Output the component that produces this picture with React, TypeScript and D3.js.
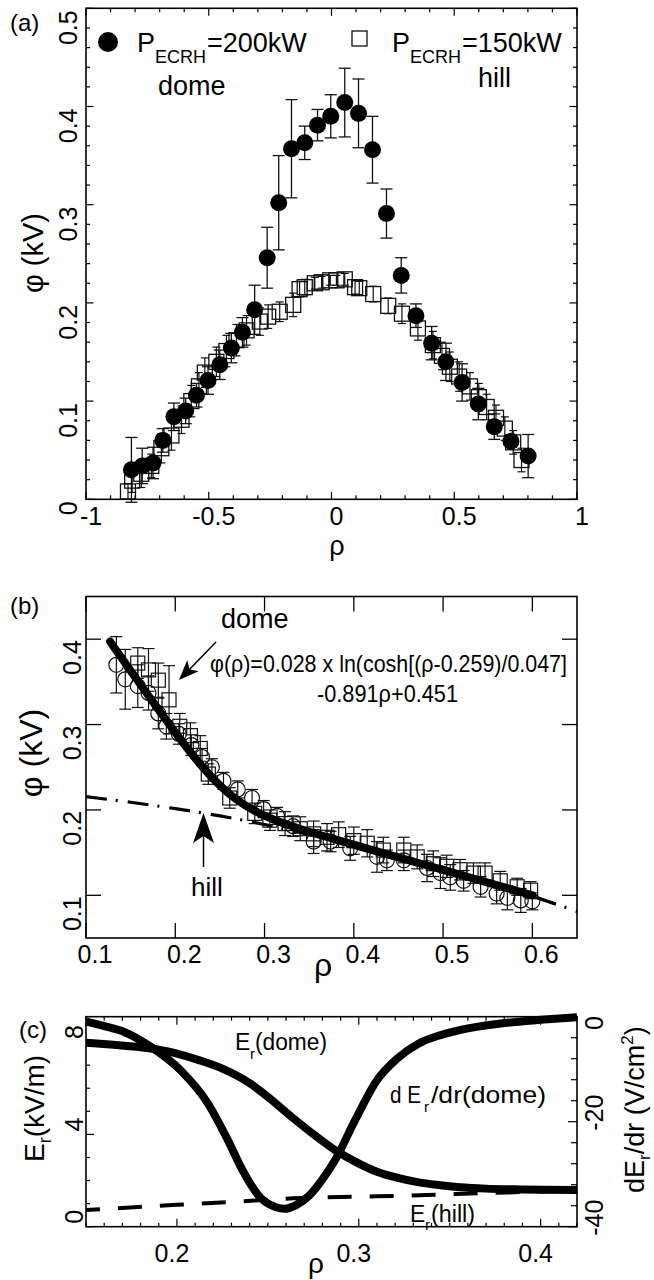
import React from 'react';
import * as d3 from 'd3';

const FONT = "'Liberation Sans', Arial, Helvetica, sans-serif";

// ---------- Panel (a) data ----------
const domeRho = [-0.815,-0.771,-0.727,-0.687,-0.642,-0.594,-0.550,-0.503,-0.455,-0.408,-0.363,-0.313,-0.262,-0.215,-0.163,-0.109,-0.057,-0.003,0.054,0.110,0.167,0.224,0.284,0.344,0.408,0.466,0.532,0.598,0.663,0.731,0.801];
const domePhi = [0.030,0.034,0.037,0.060,0.084,0.090,0.106,0.121,0.137,0.154,0.170,0.193,0.246,0.302,0.357,0.363,0.381,0.390,0.404,0.393,0.356,0.291,0.228,0.187,0.159,0.140,0.119,0.097,0.074,0.059,0.044];
const domeErr = [0.033,0.018,0.016,0.012,0.014,0.013,0.012,0.014,0.015,0.015,0.015,0.025,0.031,0.048,0.050,0.017,0.016,0.022,0.035,0.035,0.034,0.025,0.018,0.012,0.017,0.019,0.019,0.016,0.013,0.006,0.022];

const hillRho = [-0.829,-0.812,-0.775,-0.734,-0.693,-0.652,-0.611,-0.571,-0.540,-0.516,-0.469,-0.428,-0.387,-0.346,-0.292,-0.258,-0.211,-0.156,-0.130,-0.109,-0.068,-0.040,-0.005,0.020,0.054,0.096,0.113,0.170,0.231,0.287,0.352,0.413,0.450,0.482,0.520,0.564,0.600,0.632,0.670,0.706,0.740,0.774];
const hillPhi = [0.008,0.019,0.026,0.034,0.052,0.065,0.081,0.100,0.115,0.129,0.140,0.151,0.162,0.172,0.181,0.186,0.191,0.198,0.214,0.216,0.220,0.221,0.223,0.223,0.224,0.216,0.215,0.209,0.197,0.189,0.174,0.157,0.146,0.135,0.125,0.115,0.104,0.094,0.083,0.072,0.058,0.040];
const hillErr = [0.008,0.012,0.014,0.012,0.015,0.015,0.014,0.016,0.014,0.015,0.015,0.016,0.016,0.015,0.014,0.012,0.010,0.012,0.008,0.008,0.006,0.006,0.005,0.005,0.006,0.007,0.007,0.008,0.008,0.010,0.012,0.014,0.014,0.015,0.015,0.014,0.014,0.013,0.013,0.012,0.012,0.012];

const aXTicks = [-1, -0.5, 0, 0.5, 1];
const aXLabels = ['-1', '-0.5', '0', '0.5', '1'];
const aYTicks = [0, 0.1, 0.2, 0.3, 0.4, 0.5];
const aYLabels = ['0', '0.1', '0.2', '0.3', '0.4', '0.5'];

// ---------- Panel (b) data ----------
const bCircRho = [0.134,0.144,0.158,0.170,0.181,0.190,0.204,0.218,0.230,0.241,0.254,0.270,0.286,0.299,0.314,0.332,0.355,0.374,0.396,0.426,0.437,0.456,0.482,0.497,0.508,0.523,0.542,0.560,0.572,0.587,0.600];
const bCircPhi = [0.370,0.353,0.345,0.337,0.313,0.298,0.289,0.276,0.262,0.250,0.234,0.224,0.214,0.201,0.193,0.181,0.163,0.163,0.155,0.145,0.141,0.141,0.132,0.126,0.121,0.117,0.110,0.102,0.097,0.094,0.093];
const bCircErr = [0.033,0.035,0.025,0.020,0.018,0.015,0.012,0.012,0.010,0.010,0.010,0.010,0.010,0.010,0.010,0.012,0.014,0.012,0.014,0.018,0.012,0.012,0.016,0.018,0.015,0.012,0.012,0.012,0.014,0.014,0.010];

const bSqRho = [0.158,0.170,0.181,0.193,0.205,0.217,0.228,0.237,0.261,0.289,0.306,0.323,0.340,0.355,0.370,0.383,0.400,0.415,0.433,0.456,0.471,0.489,0.504,0.519,0.534,0.547,0.564,0.583,0.598];
const bSqPhi = [0.372,0.364,0.352,0.329,0.298,0.287,0.272,0.242,0.214,0.196,0.188,0.184,0.178,0.172,0.168,0.171,0.164,0.161,0.153,0.153,0.145,0.137,0.134,0.130,0.126,0.126,0.117,0.110,0.106];
const bSqErr = [0.018,0.025,0.020,0.040,0.015,0.015,0.015,0.012,0.012,0.012,0.012,0.014,0.014,0.015,0.016,0.015,0.016,0.016,0.015,0.015,0.014,0.015,0.013,0.012,0.012,0.012,0.011,0.010,0.010];

const fitRho = [0.127,0.13,0.15,0.17,0.19,0.21,0.23,0.25,0.259,0.27,0.29,0.31,0.33,0.35,0.38,0.42,0.46,0.50,0.55,0.60];
const fitPhi = [0.3972,0.3927,0.3631,0.3338,0.3049,0.2770,0.2511,0.2288,0.2202,0.2112,0.1983,0.1888,0.1812,0.1745,0.1653,0.1533,0.1415,0.1297,0.1149,0.1001];

const hillFitRho = [0.10,0.15,0.20,0.25,0.30,0.35,0.40,0.45,0.50,0.55,0.60,0.65];
const hillFitPhi = [0.2155,0.209,0.2015,0.193,0.183,0.171,0.158,0.144,0.130,0.115,0.099,0.081];

const bXTicks = [0.1, 0.2, 0.3, 0.4, 0.5, 0.6];
const bXLabels = ['0.1', '0.2', '0.3', '0.4', '0.5', '0.6'];
const bYTicks = [0.1, 0.2, 0.3, 0.4];
const bYLabels = ['0.1', '0.2', '0.3', '0.4'];

// ---------- Panel (c) data ----------
const erRho = [0.150,0.165,0.180,0.195,0.212,0.225,0.240,0.252,0.264,0.276,0.287,0.298,0.310,0.322,0.333,0.345,0.356,0.370,0.385,0.400,0.420];
const erDome = [7.97,7.88,7.78,7.60,7.22,6.85,6.22,5.50,4.70,3.95,3.32,2.82,2.38,2.10,1.92,1.80,1.71,1.65,1.62,1.60,1.59];

const dErRho = [0.150,0.160,0.171,0.1855,0.202,0.217,0.228,0.236,0.246,0.2545,0.259,0.266,0.273,0.280,0.287,0.298,0.310,0.321,0.333,0.345,0.356,0.378,0.400,0.420];
const dErDome = [-0.95,-1.8,-2.9,-5.7,-10.2,-16.5,-23.5,-29.2,-34.5,-36.3,-36.6,-35.8,-34.0,-31.0,-27.3,-19.7,-12.1,-8.0,-5.1,-3.5,-2.5,-1.3,-0.6,-0.1];

const erHillRho = [0.150,0.200,0.228,0.264,0.300,0.333,0.367,0.400,0.420];
const erHill = [0.72,0.95,1.06,1.23,1.30,1.36,1.45,1.53,1.58];

const cXTicks = [0.2, 0.3, 0.4];
const cXLabels = ['0.2', '0.3', '0.4'];
const cYLTicks = [0, 4, 8];
const cYLLabels = ['0', '4', '8'];
const cYRTicks = [-40, -20, 0];
const cYRLabels = ['-40', '-20', '0'];

// ---------- helpers ----------
const near = (v: number, step: number) => Math.abs(v / step - Math.round(v / step)) < 1e-6;

function arrowHead(x1: number, y1: number, x2: number, y2: number, len: number, hw: number, notch: number) {
  const dx = x2 - x1, dy = y2 - y1;
  const L = Math.hypot(dx, dy);
  const ux = dx / L, uy = dy / L;
  const px = -uy, py = ux;
  const bx = x2 - ux * len, by = y2 - uy * len;
  const nx = x2 - ux * (len - notch), ny = y2 - uy * (len - notch);
  return `M${x2},${y2} L${bx + px * hw},${by + py * hw} L${nx},${ny} L${bx - px * hw},${by - py * hw} Z`;
}

function ErrBar({ x, y1, y2, cap, sw = 1.3 }: { x: number; y1: number; y2: number; cap: number; sw?: number }) {
  return (
    <g stroke="#111" strokeWidth={sw} fill="none">
      <line x1={x} x2={x} y1={y1} y2={y2} />
      <line x1={x - cap / 2} x2={x + cap / 2} y1={y1} y2={y1} />
      <line x1={x - cap / 2} x2={x + cap / 2} y1={y2} y2={y2} />
    </g>
  );
}

export default function App() {
  // scales
  const ax = d3.scaleLinear().domain([-1, 1]).range([86, 577]);
  const ay = d3.scaleLinear().domain([0, 0.5]).range([499.3, 8.3]);
  const bx = d3.scaleLinear().domain([0.1, 0.65]).range([86, 577]);
  const by = d3.scaleLinear().domain([0.05, 0.45]).range([938, 596.5]);
  const cx = d3.scaleLinear().domain([0.15, 0.42]).range([86, 577]);
  const cyL = d3.scaleLinear().domain([0, 9.1]).range([1226.7, 1016.7]);
  const cyR = d3.scaleLinear().domain([-40, 0]).range([1226.7, 1016.7]);

  const fitLine = d3.line<number>().x((_, i) => bx(fitRho[i])).y((d) => by(d)).curve(d3.curveMonotoneX);
  const hillLine = d3.line<number>().x((_, i) => bx(hillFitRho[i])).y((d) => by(d)).curve(d3.curveMonotoneX);
  const erLine = d3.line<number>().x((_, i) => cx(erRho[i])).y((d) => cyL(d)).curve(d3.curveMonotoneX);
  const dErLine = d3.line<number>().x((_, i) => cx(dErRho[i])).y((d) => cyR(d)).curve(d3.curveMonotoneX);
  const erHillLine = d3.line<number>().x((_, i) => cx(erHillRho[i])).y((d) => cyL(d)).curve(d3.curveMonotoneX);

  // tick arrays
  const aXMinor = d3.range(-10, 11).map((k) => k / 10);
  const aYMinor = d3.range(0, 26).map((k) => k / 50);
  const cXMinor = d3.range(15, 43).map((k) => k / 100);
  const cYLMinor = d3.range(0, 10).map((k) => k);
  const cYRMinor = d3.range(-40, 1, 4);

  const [aL, aR, aT, aB] = [ax.range()[0], ax.range()[1], ay.range()[1], ay.range()[0]];
  const [bL, bR, bT, bB] = [bx.range()[0], bx.range()[1], by.range()[1], by.range()[0]];
  const [cL, cR, cT, cB] = [cx.range()[0], cx.range()[1], cyL.range()[1], cyL.range()[0]];

  return (
    <svg width={654} height={1280} viewBox="0 0 654 1280"
      style={{ position: 'absolute', left: 0, top: 0, background: '#fff', display: 'block' }}
      fontFamily={FONT}>
      <rect x={0} y={0} width={654} height={1280} fill="#fff" />

      {/* ================= Panel (a) ================= */}
      <g>
        <rect x={aL} y={aT} width={aR - aL} height={aB - aT} fill="none" stroke="#000" strokeWidth={1.6} />
        {aXMinor.map((v, i) => {
          const len = near(v, 0.5) ? 7.5 : 4;
          return (
            <g key={'axm' + i} stroke="#000" strokeWidth={1.2}>
              <line x1={ax(v)} x2={ax(v)} y1={aB} y2={aB - len} />
              <line x1={ax(v)} x2={ax(v)} y1={aT} y2={aT + len} />
            </g>
          );
        })}
        {aYMinor.map((v, i) => {
          const len = near(v, 0.1) ? 7.5 : 4;
          return (
            <g key={'aym' + i} stroke="#000" strokeWidth={1.2}>
              <line x1={aL} x2={aL + len} y1={ay(v)} y2={ay(v)} />
              <line x1={aR} x2={aR - len} y1={ay(v)} y2={ay(v)} />
            </g>
          );
        })}
        {aXTicks.map((v, i) => (
          <text key={'axl' + i} x={ax(v) + 5} y={525} fontSize={25} textAnchor="middle">{aXLabels[i]}</text>
        ))}
        {aYTicks.map((v, i) => (
          <text key={'ayl' + i} transform={`translate(77,${ay(v) + 2}) rotate(-90)`} fontSize={25} textAnchor="end">{aYLabels[i]}</text>
        ))}
        <text x={10} y={31} fontSize={24}>(a)</text>
        <text transform="translate(43,253) rotate(-90)" fontSize={29} textAnchor="middle">φ (kV)</text>
        <text x={337} y={555} fontSize={27} textAnchor="middle">ρ</text>

        {/* hill squares */}
        {hillRho.map((r, i) => (
          <ErrBar key={'he' + i} x={ax(r)} y1={ay(hillPhi[i] - hillErr[i])} y2={ay(hillPhi[i] + hillErr[i])} cap={8} sw={1.2} />
        ))}
        {hillRho.map((r, i) => (
          <rect key={'hs' + i} x={ax(r) - 7.5} y={ay(hillPhi[i]) - 7.5} width={15} height={15} fill="none" stroke="#111" strokeWidth={1.3} />
        ))}
        {/* dome circles */}
        {domeRho.map((r, i) => (
          <ErrBar key={'de' + i} x={ax(r)} y1={ay(domePhi[i] - domeErr[i])} y2={ay(domePhi[i] + domeErr[i])} cap={12} sw={1.3} />
        ))}
        {domeRho.map((r, i) => (
          <circle key={'dc' + i} cx={ax(r)} cy={ay(domePhi[i])} r={8.5} fill="#000" />
        ))}

        {/* legend */}
        <circle cx={108} cy={42} r={10} fill="#000" />
        <text x={137} y={52} fontSize={27}>P</text>
        <text x={155} y={63} fontSize={18}>ECRH</text>
        <text x={207} y={52} fontSize={27}>=200kW</text>
        <text x={158} y={95} fontSize={27}>dome</text>
        <rect x={352} y={31} width={15} height={15} fill="none" stroke="#111" strokeWidth={1.3} />
        <text x={392} y={52} fontSize={27}>P</text>
        <text x={410} y={63} fontSize={18}>ECRH</text>
        <text x={462} y={52} fontSize={27}>=150kW</text>
        <text x={478} y={87} fontSize={27}>hill</text>
      </g>

      {/* ================= Panel (b) ================= */}
      <g>
        <rect x={bL} y={bT} width={bR - bL} height={bB - bT} fill="none" stroke="#000" strokeWidth={1.6} />
        {bXTicks.map((v, i) => (
          <g key={'bxt' + i} stroke="#000" strokeWidth={1.3}>
            <line x1={bx(v)} x2={bx(v)} y1={bB} y2={bB - 15} />
            <line x1={bx(v)} x2={bx(v)} y1={bT} y2={bT + 15} />
          </g>
        ))}
        {bYTicks.map((v, i) => (
          <g key={'byt' + i} stroke="#000" strokeWidth={1.3}>
            <line x1={bL} x2={bL + 15} y1={by(v)} y2={by(v)} />
            <line x1={bR} x2={bR - 15} y1={by(v)} y2={by(v)} />
          </g>
        ))}
        {bXTicks.map((v, i) => (
          <text key={'bxl' + i} x={bx(v) + 9} y={963} fontSize={25} textAnchor="middle">{bXLabels[i]}</text>
        ))}
        {bYTicks.map((v, i) => (
          <text key={'byl' + i} transform={`translate(81,${by(v) + 1}) rotate(-90)`} fontSize={25} textAnchor="end">{bYLabels[i]}</text>
        ))}
        <text x={10} y={614} fontSize={24}>(b)</text>
        <text transform="translate(42,753) rotate(-90)" fontSize={32} textAnchor="middle">φ (kV)</text>
        <text x={323} y={976} fontSize={32} textAnchor="middle">ρ</text>

        {/* hill dash-dot line */}
        <path d={hillLine(hillFitPhi) || ''} fill="none" stroke="#000" strokeWidth={3.2} strokeDasharray="21 9 2 10" />

        {/* data */}
        {bSqRho.map((r, i) => (
          <ErrBar key={'bse' + i} x={bx(r)} y1={by(bSqPhi[i] - bSqErr[i])} y2={by(bSqPhi[i] + bSqErr[i])} cap={12} sw={1.2} />
        ))}
        {bCircRho.map((r, i) => (
          <ErrBar key={'bce' + i} x={bx(r)} y1={by(bCircPhi[i] - bCircErr[i])} y2={by(bCircPhi[i] + bCircErr[i])} cap={12} sw={1.2} />
        ))}
        {bSqRho.map((r, i) => (
          <rect key={'bs' + i} x={bx(r) - 7} y={by(bSqPhi[i]) - 7} width={14} height={14} fill="none" stroke="#111" strokeWidth={1.2} />
        ))}
        {bCircRho.map((r, i) => (
          <circle key={'bc' + i} cx={bx(r)} cy={by(bCircPhi[i])} r={7.5} fill="none" stroke="#111" strokeWidth={1.2} />
        ))}

        {/* fit line */}
        <path d={fitLine(fitPhi) || ''} fill="none" stroke="#000" strokeWidth={8} strokeLinecap="round" />

        {/* annotations */}
        <text x={221} y={628} fontSize={27}>dome</text>
        <line x1={216} y1={642} x2={186} y2={673} stroke="#000" strokeWidth={1.5} />
        <path d={arrowHead(216, 642, 179, 680, 20, 8, 5)} fill="#000" />
        <text x={210} y={672} fontSize={24} textLength={357} lengthAdjust="spacingAndGlyphs">φ(ρ)=0.028 x ln(cosh[(ρ-0.259)/0.047]</text>
        <text x={317} y={702} fontSize={24} textLength={141} lengthAdjust="spacingAndGlyphs">-0.891ρ+0.451</text>
        <line x1={203.5} y1={867} x2={203.5} y2={836} stroke="#000" strokeWidth={1.5} />
        <path d={arrowHead(203.5, 867, 203.5, 813, 30, 10.5, 7)} fill="#000" />
        <text x={191} y={896} fontSize={26}>hill</text>
      </g>

      {/* ================= Panel (c) ================= */}
      <g>
        <rect x={cL} y={cT} width={cR - cL} height={cB - cT} fill="none" stroke="#000" strokeWidth={1.6} />
        {cXMinor.map((v, i) => {
          const len = near(v, 0.1) ? 8 : 4;
          return (
            <g key={'cxm' + i} stroke="#000" strokeWidth={1.2}>
              <line x1={cx(v)} x2={cx(v)} y1={cB} y2={cB - len} />
              <line x1={cx(v)} x2={cx(v)} y1={cT} y2={cT + len} />
            </g>
          );
        })}
        {cYLMinor.map((v, i) => {
          const len = near(v, 4) ? 8 : 4;
          return <line key={'cyl' + i} x1={cL} x2={cL + len} y1={cyL(v)} y2={cyL(v)} stroke="#000" strokeWidth={1.2} />;
        })}
        {cYRMinor.map((v, i) => {
          const len = near(v, 20) ? 9 : 6;
          return <line key={'cyr' + i} x1={cR} x2={cR - len} y1={cyR(v)} y2={cyR(v)} stroke="#000" strokeWidth={1.2} />;
        })}
        {cXTicks.map((v, i) => (
          <text key={'cxl' + i} x={cx(v) - 5} y={1262} fontSize={25} textAnchor="middle">{cXLabels[i]}</text>
        ))}
        {cYLTicks.map((v, i) => (
          <text key={'cyll' + i} transform={`translate(83,${cyL(v) - 3}) rotate(-90)`} fontSize={25} textAnchor="start">{cYLLabels[i]}</text>
        ))}
        {cYRTicks.map((v, i) => (
          <text key={'cyrl' + i} transform={`translate(603,${Math.max(cyR(v) - 9, 1023)}) rotate(-90)`} fontSize={25} textAnchor="middle">{cYRLabels[i]}</text>
        ))}
        <text x={19} y={1038} fontSize={24}>(c)</text>
        <text x={316} y={1273} fontSize={28} textAnchor="middle">ρ</text>
        <text transform="translate(44,1162) rotate(-90)" fontSize={28}>
          E<tspan fontSize={18} dy={7}>r</tspan><tspan dy={-7}>(kV/m)</tspan>
        </text>
        <text transform="translate(644,1193) rotate(-90)" fontSize={27}>
          dE<tspan fontSize={17} dy={6}>r</tspan><tspan dy={-6}>/dr (V/cm</tspan><tspan fontSize={17} dy={-11}>2</tspan><tspan dy={11}>)</tspan>
        </text>

        <path d={erHillLine(erHill) || ''} fill="none" stroke="#000" strokeWidth={4} strokeDasharray="24 18" strokeDashoffset={10} />
        <path d={erLine(erDome) || ''} fill="none" stroke="#000" strokeWidth={8} />
        <path d={dErLine(dErDome) || ''} fill="none" stroke="#000" strokeWidth={8} />

        <text x={235} y={1050} fontSize={23}>E</text>
        <text x={250} y={1059} fontSize={15}>r</text>
        <text x={255} y={1050} fontSize={23} textLength={72} lengthAdjust="spacingAndGlyphs">(dome)</text>
        <text x={390} y={1103} fontSize={24} textLength={31} lengthAdjust="spacingAndGlyphs">d E</text>
        <text x={424} y={1112} fontSize={15}>r</text>
        <text x={431} y={1103} fontSize={24} textLength={115} lengthAdjust="spacingAndGlyphs">/dr(dome)</text>
        <text x={410} y={1222} fontSize={23}>E</text>
        <text x={425} y={1230} fontSize={15}>r</text>
        <text x={431} y={1222} fontSize={23} textLength={44} lengthAdjust="spacingAndGlyphs">(hill)</text>
      </g>
    </svg>
  );
}
